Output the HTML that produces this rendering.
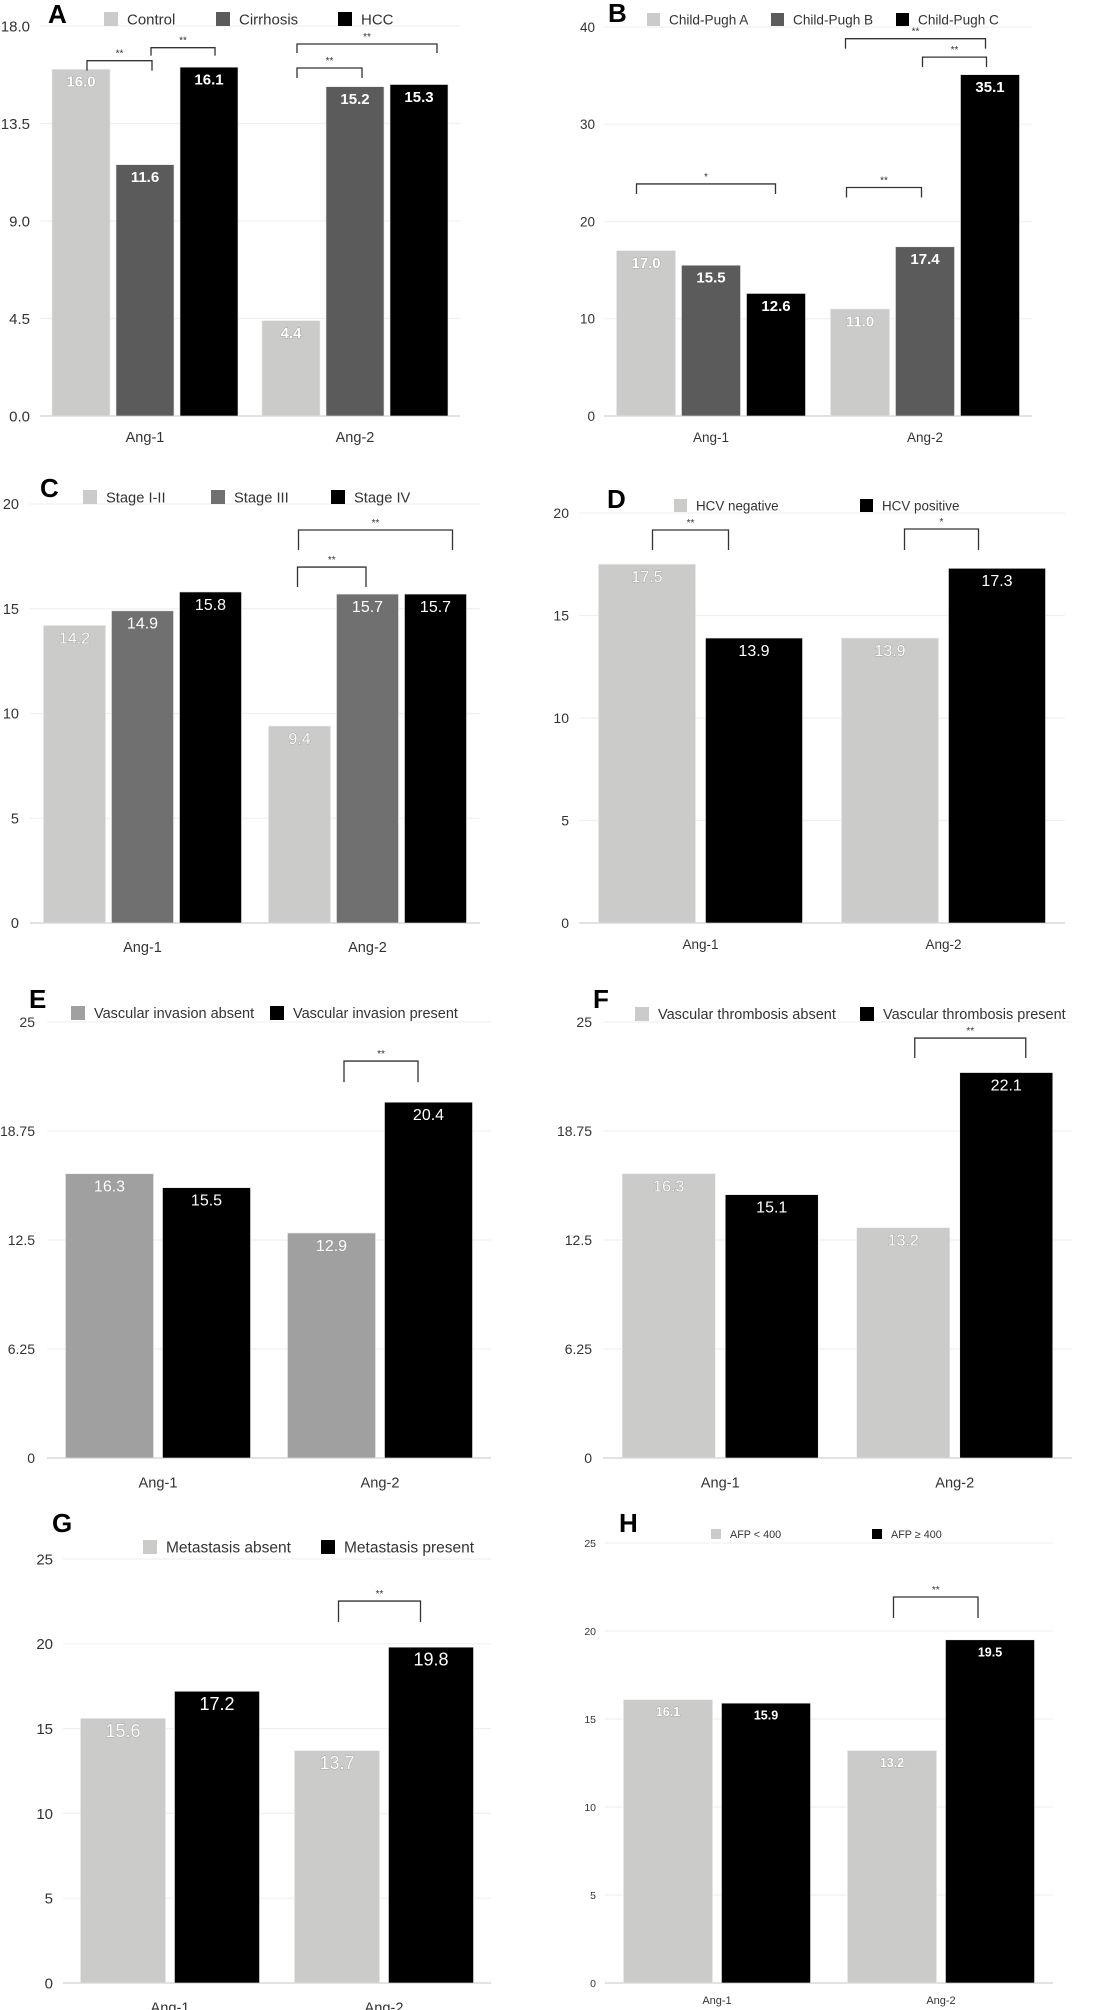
<!DOCTYPE html>
<html><head><meta charset="utf-8"><style>
html,body{margin:0;padding:0;background:#fff;}
svg{display:block;font-family:"Liberation Sans",Arial,sans-serif;}
</style></head><body>
<svg id="fig" width="1100" height="2010" viewBox="0 0 1100 2010"></svg>
<script>
// ---- data ----
const categories = ['Ang-1','Ang-2'];
const aSeries = ['Control','Cirrhosis','HCC'];
const aValues = [[16.0,11.6,16.1],[4.4,15.2,15.3]];
const aTicks = ['0.0','4.5','9.0','13.5','18.0'];
const bSeries = ['Child-Pugh A','Child-Pugh B','Child-Pugh C'];
const bValues = [[17.0,15.5,12.6],[11.0,17.4,35.1]];
const bTicks = ['0','10','20','30','40'];
const cSeries = ['Stage I-II','Stage III','Stage IV'];
const cValues = [[14.2,14.9,15.8],[9.4,15.7,15.7]];
const cTicks = ['0','5','10','15','20'];
const dSeries = ['HCV negative','HCV positive'];
const dValues = [[17.5,13.9],[13.9,17.3]];
const dTicks = ['0','5','10','15','20'];
const eSeries = ['Vascular invasion absent','Vascular invasion present'];
const eValues = [[16.3,15.5],[12.9,20.4]];
const eTicks = ['0','6.25','12.5','18.75','25'];
const fSeries = ['Vascular thrombosis absent','Vascular thrombosis present'];
const fValues = [[16.3,15.1],[13.2,22.1]];
const fTicks = ['0','6.25','12.5','18.75','25'];
const gSeries = ['Metastasis absent','Metastasis present'];
const gValues = [[15.6,17.2],[13.7,19.8]];
const gTicks = ['0','5','10','15','20','25'];
const hSeries = ['AFP < 400','AFP \u2265 400'];
const hValues = [[16.1,15.9],[13.2,19.5]];
const hTicks = ['0','5','10','15','20','25'];

const NS='http://www.w3.org/2000/svg';
const svg=document.getElementById('fig');
function mk(tag,attrs,parent){const e=document.createElementNS(NS,tag);for(const k in attrs)e.setAttribute(k,attrs[k]);(parent||svg).appendChild(e);return e;}

const panels=[
 {id:'a',letter:'A',lx:48,ly:23,series:aSeries,values:aValues,ticks:aTicks,max:18,x0:40,x1:460,y0:416,yt:26,bw:58,gap:6,
  colors:['#cbcbc9','#5b5b5b','#000'],tickFs:15,tickR:30,catFs:14.5,catY:437,valFs:15,valBold:true,
  leg:{y:12,s:14,xs:[104,216,338],fs:15},
  br:[[0,0,1,16.4,10,6,7,'**'],[0,1,2,17.0,8,6,6,'**'],[1,0,1,16.06,10,6,7,'**'],[1,0,2,17.17,9,6,18,'**']]},
 {id:'b',letter:'B',lx:608,ly:22,series:bSeries,values:bValues,ticks:bTicks,max:40,x0:604,x1:1032,y0:416,yt:27,bw:59,gap:6,
  colors:['#cbcbc9','#5b5b5b','#000'],tickFs:13.5,tickR:595,catFs:13.5,catY:437,valFs:15,valBold:true,
  leg:{y:13,s:13,xs:[647,771,896],fs:13.6},
  br:[[0,0,2,23.86,10,-9.5,-0.5,'*'],[1,0,1,23.5,10,-13.5,-3.5,'**'],[1,0,2,38.8,10,-14.5,-4.5,'**'],[1,1,2,36.9,10,-2.5,-3.5,'**']]},
 {id:'c',letter:'C',lx:40,ly:497,series:cSeries,values:cValues,ticks:cTicks,max:20,x0:30,x1:480,y0:923,yt:504,bw:62,gap:6,
  colors:['#cbcbc9','#707070','#000'],tickFs:14.5,tickR:19,catFs:14.5,catY:947,valFs:16,valBold:false,
  leg:{y:490,s:14,xs:[83,211,331],fs:14.7},
  br:[[1,0,2,18.76,20,-1,17,'**'],[1,0,1,16.99,20,-2,-1.5,'**']]},
 {id:'d',letter:'D',lx:607,ly:508,series:dSeries,values:dValues,ticks:dTicks,max:20,x0:579,x1:1065,y0:923,yt:513,bw:97,gap:10,
  colors:['#cbcbc9','#000'],tickFs:14,tickR:569,catFs:13.5,catY:944,valFs:16,valBold:false,
  leg:{y:499,s:13,xs:[674,860],fs:13.4},
  br:[[0,0,1,19.17,20,5.5,-25.5,'**'],[1,0,1,19.22,21,14.5,-18.5,'*']]},
 {id:'e',letter:'E',lx:29,ly:1008,series:eSeries,values:eValues,ticks:eTicks,max:25,x0:47,x1:491,y0:1458,yt:1022,bw:88,gap:9,
  colors:['#a0a0a0','#000'],tickFs:14,tickR:35,catFs:14.6,catY:1482,valFs:16,valBold:false,
  leg:{y:1006,s:14,xs:[71,270],fs:14.5},
  br:[[1,0,1,22.76,21,12.5,-10.5,'**']]},
 {id:'f',letter:'F',lx:593,ly:1008,series:fSeries,values:fValues,ticks:fTicks,max:25,x0:603,x1:1072,y0:1458,yt:1022,bw:93,gap:10,
  colors:['#cbcbc9','#000'],tickFs:14,tickR:592,catFs:14.6,catY:1482,valFs:16,valBold:false,
  leg:{y:1007,s:14,xs:[635,860],fs:14.5},
  br:[[1,0,1,24.08,20,11.5,19.5,'**']]},
 {id:'g',letter:'G',lx:52,ly:1532,series:gSeries,values:gValues,ticks:gTicks,max:25,x0:63,x1:491,y0:1983,yt:1559,bw:85,gap:9,
  colors:['#cbcbc9','#000'],tickFs:15,tickR:53,catFs:14.6,catY:2007,valFs:18,valBold:false,
  leg:{y:1540,s:14,xs:[143,321],fs:15.5},
  br:[[1,0,1,22.52,21,1.5,-10.5,'**']]},
 {id:'h',letter:'H',lx:619,ly:1532,series:hSeries,values:hValues,ticks:hTicks,max:25,x0:605,x1:1053,y0:1983,yt:1543,bw:89,gap:9,
  colors:['#cbcbc9','#000'],tickFs:10.5,tickR:596,catFs:11,catY:2000,valFs:12.5,valBold:true,
  leg:{y:1529,s:10,xs:[711,872],fs:10.8},
  br:[[1,0,1,21.93,21,1.5,-12,'**']]}
];

panels.forEach(p=>{
  const g=mk('g',{});
  
  
  const yS=v=>p.y0-(v/p.max)*(p.y0-p.yt);
  const W=p.x1-p.x0, n=p.series.length;
  const gc=i=>p.x0+(i+0.5)*W/categories.length;
  const bx=(i,j)=>gc(i)-(n*p.bw+(n-1)*p.gap)/2+j*(p.bw+p.gap);
  const bc=(i,j)=>bx(i,j)+p.bw/2;
  p.ticks.forEach((t,k)=>{
    const v=k*p.max/(p.ticks.length-1), y=yS(v);
    const ln=mk('line',{x1:p.x0,x2:p.x1,y1:y,y2:y,stroke:k===0?'#e2e2e2':'#f0f0f0','stroke-width':k===0?2:1.2},g);
    
    
    const tx=mk('text',{x:p.tickR,y:y+p.tickFs*0.36,'text-anchor':'end','font-size':p.tickFs,fill:'#333'},g);
    tx.textContent=t;
    
    
  });
  categories.forEach((c,i)=>{
    p.series.forEach((s,j)=>{
      const v=p.values[i][j], x=bx(i,j), y=yS(v);
      const r=mk('rect',{x:x,y:y,width:p.bw,height:p.y0-y,fill:p.colors[j],stroke:'#e8e8e8','stroke-width':0.6},g);
      
      
      const light=p.colors[j]!=='#000'&&p.colors[j]!=='#5b5b5b'&&p.colors[j]!=='#707070';
      const t=mk('text',{x:x+p.bw/2,y:y+12+p.valFs*0.36,'text-anchor':'middle','font-size':p.valFs,'font-weight':p.valBold?'bold':'normal',fill:'#fff'},g);
      if(light){t.setAttribute('stroke','#999');t.setAttribute('stroke-width','0.8');t.setAttribute('paint-order','stroke');}
      t.textContent=v.toFixed(1);
      
      
    });
    const ct=mk('text',{x:gc(i),y:p.catY+p.catFs*0.36,'text-anchor':'middle','font-size':p.catFs,fill:'#333'},g);
    ct.textContent=c;
    
    
  });
  p.br.forEach(b=>{
    const xa=bc(b[0],b[1])+b[5], xb=bc(b[0],b[2])+b[6], yt=yS(b[3]);
    const pa=mk('path',{d:`M${xa},${yt+b[4]}V${yt}H${xb}V${yt+b[4]}`,fill:'none',stroke:'#333','stroke-width':1.3},g);
    
    
    const st=mk('text',{x:(xa+xb)/2,y:yt-4,'text-anchor':'middle','font-size':10,fill:'#333'},g);
    st.textContent=b[7];
    
    
  });
  p.series.forEach((s,j)=>{
    const L=p.leg;
    const sq=mk('rect',{x:L.xs[j],y:L.y,width:L.s,height:L.s,fill:p.colors[j]},g);
    
    
    const lt=mk('text',{x:L.xs[j]+L.s+9,y:L.y+L.s/2+L.fs*0.36,'font-size':L.fs,fill:'#333'},g);
    lt.textContent=s;
    
    
  });
  const lt=mk('text',{x:p.lx,y:p.ly,'font-size':26,'font-weight':'bold',fill:'#000'},g);
  lt.textContent=p.letter;
  
  
});
</script>
</body></html>
